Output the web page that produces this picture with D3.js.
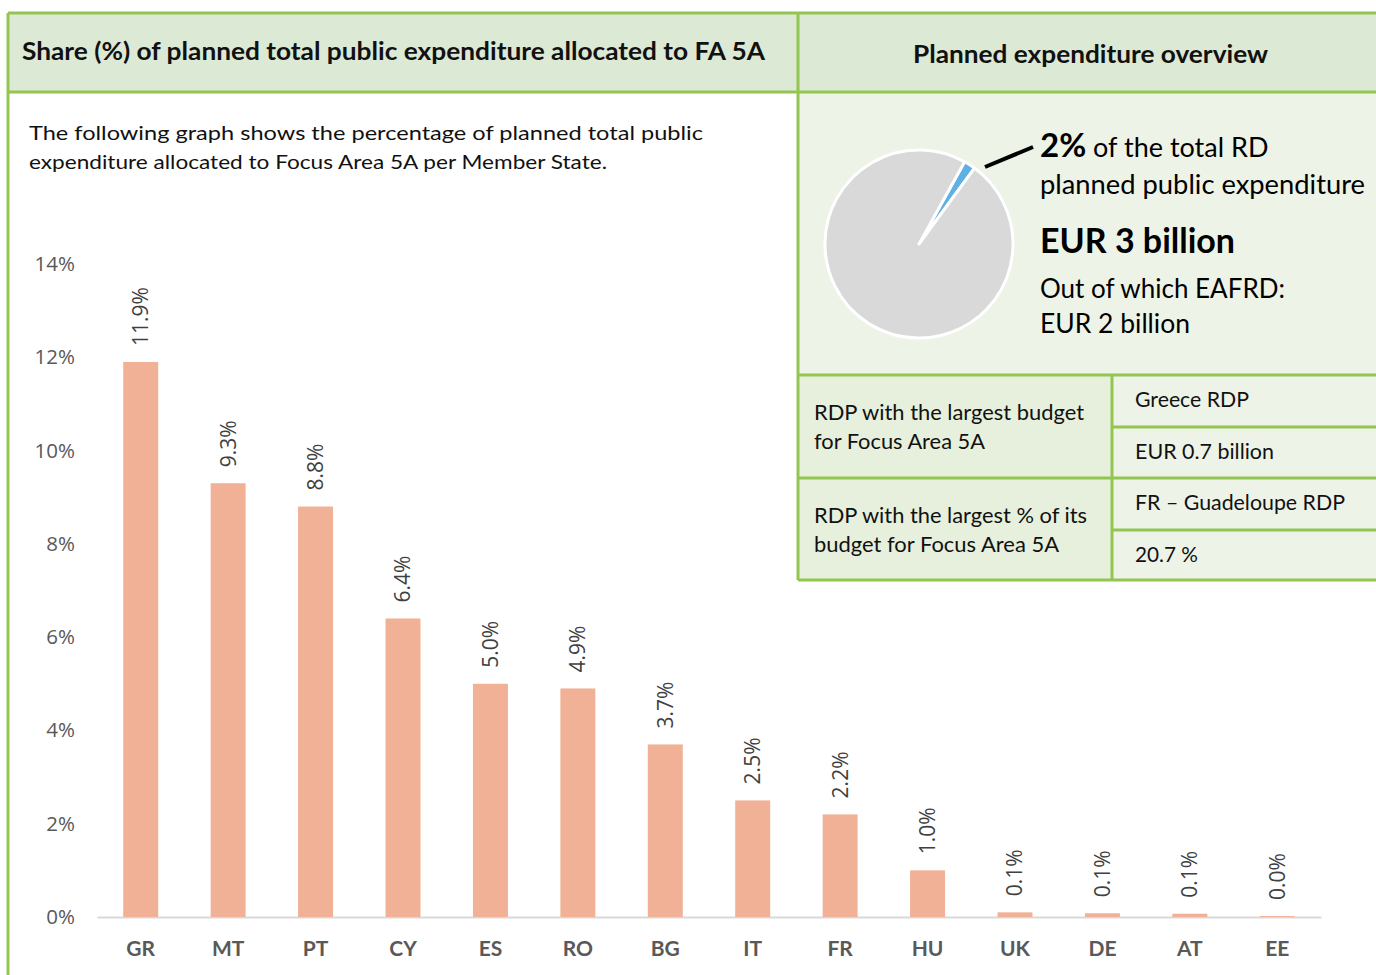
<!DOCTYPE html>
<head>
  <meta charset="utf-8">
  <script src="https://d3js.org/d3.v7.min.js"></script>
  <style>
    body { margin:0; background:#fff; font-family: Lato, "Open Sans", sans-serif; }
    svg { display:block; }
    .axis text { font-family: "Open Sans"; font-size: 20.5px; fill: #595959; }
    .x.axis text { font-family: Lato; font-weight: bold; font-size: 21px; }
    .x.axis path { stroke: #d9d9d9; stroke-width: 2; }
  </style>
</head>
<body>
  <script>
    // data
    var countries = ["GR", "MT", "PT", "CY", "ES", "RO", "BG", "IT", "FR", "HU", "UK", "DE", "AT", "EE"];
    var shares = [11.9, 9.3, 8.8, 6.4, 5.0, 4.9, 3.7, 2.5, 2.2, 1.0, 0.10, 0.08, 0.07, 0.02];
    var yTicks = [0, 2, 4, 6, 8, 10, 12, 14];
    var pieShares = [2, 98];

    var titleLeft = "Share (%) of planned total public expenditure allocated to FA 5A";
    var titleRight = "Planned expenditure overview";
    var introLines = ["The following graph shows the percentage of planned total public",
                      "expenditure allocated  to Focus Area 5A per Member State."];
    var tableLabels = [["RDP with the largest budget", "for Focus Area 5A"],
                       ["RDP with the largest % of its", "budget for Focus Area 5A"]];
    var tableValues = ["Greece RDP", "EUR 0.7 billion", "FR \u2013 Guadeloupe RDP", "20.7 %"];

    var green = "#92c651", bar = "#f0b196";
    var W = 1376, H = 975;

    var svg = d3.select("body").append("svg")
        .attr("width", W).attr("height", H);

    // squeeze / stretch a text to a measured width
    function fit(sel, w) {
      sel.attr("textLength", w).attr("lengthAdjust", "spacingAndGlyphs");
      return sel;
    }

    // panels
    svg.append("rect").attr("x", 8).attr("y", 13).attr("width", 790).attr("height", 79).attr("fill", "#dce9d4");
    svg.append("rect").attr("x", 798).attr("y", 13).attr("width", 578).attr("height", 79).attr("fill", "#dce9d4");
    svg.append("rect").attr("x", 798).attr("y", 92).attr("width", 578).attr("height", 283).attr("fill", "#eef3e8");
    svg.append("rect").attr("x", 798).attr("y", 375).attr("width", 314).attr("height", 205).attr("fill", "#e6f0dc");
    svg.append("rect").attr("x", 1112).attr("y", 375).attr("width", 264).attr("height", 205).attr("fill", "#eef3e8");

    var lines = [[8, 13, 1376, 13], [8, 92, 1376, 92], [8, 13, 8, 975], [798, 13, 798, 580],
                 [798, 375, 1376, 375], [798, 478, 1376, 478], [798, 580, 1376, 580],
                 [1112, 375, 1112, 580], [1112, 427, 1376, 427], [1112, 530, 1376, 530]];
    svg.selectAll(".frame").data(lines).enter().append("line")
        .attr("x1", d => d[0]).attr("y1", d => d[1]).attr("x2", d => d[2]).attr("y2", d => d[3])
        .attr("stroke", green).attr("stroke-width", 3);

    // headers
    fit(svg.append("text").attr("x", 22).attr("y", 60)
        .style("font-weight", "bold").style("font-size", "24px").attr("fill", "#111")
        .text(titleLeft), 743);
    fit(svg.append("text").attr("x", 913).attr("y", 63)
        .style("font-weight", "bold").style("font-size", "24px").attr("fill", "#111")
        .text(titleRight), 355);

    var introW = [674, 578];
    introLines.forEach((t, i) => {
      fit(svg.append("text").attr("x", 29).attr("y", 140 + i * 29)
          .style("font-size", "20px").attr("fill", "#111").text(t), introW[i]);
    });

    // pie
    var pieG = svg.append("g").attr("transform", "translate(919,244)");
    var pie = d3.pie().sort(null).startAngle(29 * Math.PI / 180).endAngle(29 * Math.PI / 180 + 2 * Math.PI);
    var arc = d3.arc().innerRadius(0).outerRadius(94);
    pieG.selectAll("path").data(pie(pieShares)).enter().append("path")
        .attr("d", arc)
        .attr("fill", (d, i) => i === 0 ? "#5fb0e3" : "#d9d9d9")
        .attr("stroke", "#fff").attr("stroke-width", 3).attr("stroke-linejoin", "round");
    svg.append("line").attr("x1", 985).attr("y1", 167).attr("x2", 1033).attr("y2", 147)
        .attr("stroke", "#000").attr("stroke-width", 4);

    var t1 = svg.append("text").attr("x", 1040).attr("y", 157).attr("fill", "#000");
    t1.append("tspan").style("font-weight", "bold").style("font-size", "33px").text("2%");
    t1.append("tspan").style("font-size", "27px").text(" of the total RD");
    fit(svg.append("text").attr("x", 1040).attr("y", 194).style("font-size", "27px")
        .text("planned public expenditure"), 325);
    fit(svg.append("text").attr("x", 1040).attr("y", 253).style("font-size", "35px").style("font-weight", "bold")
        .text("EUR 3 billion"), 195);
    fit(svg.append("text").attr("x", 1040).attr("y", 298).style("font-size", "27px")
        .text("Out of which EAFRD:"), 245);
    fit(svg.append("text").attr("x", 1040).attr("y", 333).style("font-size", "27px")
        .text("EUR 2 billion"), 150);

    // table
    var labW = [[270, 171], [273, 245]];
    tableLabels.forEach((pair, r) => {
      pair.forEach((t, j) => {
        fit(svg.append("text").attr("x", 814).attr("y", 420 + r * 103 + j * 29)
            .style("font-size", "21px").attr("fill", "#111").text(t), labW[r][j]);
      });
    });
    var valW = [114, 139, 210, 63];
    tableValues.forEach((t, i) => {
      fit(svg.append("text").attr("x", 1135).attr("y", 407 + i * 51.7)
          .style("font-size", "21px").attr("fill", "#111").text(t), valW[i]);
    });

    // bar chart
    var x = d3.scaleBand().domain(countries).range([97, 1321]).paddingInner(0.6).paddingOuter(0.3);
    var y = d3.scaleLinear().domain([0, 14]).range([917, 264]);

    var yAxis = svg.append("g").attr("class", "y axis").attr("transform", "translate(75,0)")
        .call(d3.axisLeft(y).tickValues(yTicks).tickFormat(d => d + "%").tickSize(0).tickPadding(0));
    yAxis.select(".domain").remove();

    svg.append("g").attr("class", "x axis").attr("transform", "translate(0,917)")
        .call(d3.axisBottom(x).tickSize(0).tickSizeOuter(0).tickPadding(24));

    var rows = countries.map((c, i) => ({ c: c, v: shares[i] }));

    svg.selectAll(".bar").data(rows).enter().append("rect")
        .attr("class", "bar")
        .attr("x", d => x(d.c)).attr("width", x.bandwidth())
        .attr("y", d => y(d.v)).attr("height", d => y(0) - y(d.v))
        .attr("fill", bar);

    svg.selectAll(".label").data(rows).enter().append("text")
        .attr("class", "label")
        .attr("transform", d => "translate(" + (x(d.c) + x.bandwidth() / 2) + "," + (y(d.v) - 16) + ") rotate(-90)")
        .attr("dy", "0.35em")
        .style("font-family", "Open Sans").style("font-size", "21px").attr("fill", "#404040")
        .text(d => d.v.toFixed(1) + "%");
  </script>
</body>
